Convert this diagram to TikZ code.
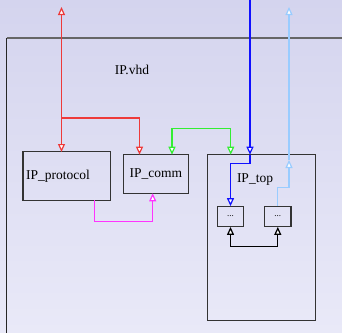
\documentclass[tikz,border=0pt]{standalone}
\usepackage{fontspec}
\setmainfont{Liberation Serif}
\usetikzlibrary{arrows.meta,calc}
\definecolor{bgtop}{HTML}{D4D4EE}
\definecolor{bgbot}{HTML}{E9E9F8}
\definecolor{cred}{HTML}{EE3A3A}
\definecolor{cgreen}{HTML}{33EE33}
\definecolor{cblue}{HTML}{1010FF}
\definecolor{clblue}{HTML}{99CCFF}
\definecolor{cmag}{HTML}{FF33FF}
\definecolor{cbox}{HTML}{333333}
\begin{document}
\begin{tikzpicture}[x=1pt,y=-1pt,
  tri/.tip={Triangle[fill=white,width=7pt,length=8pt]},
  conn/.style={line width=1.2pt},
  box/.style={draw=cbox,line width=1.2pt,rectangle,inner sep=0pt,font=\fontsize{13.5}{16}\selectfont},
  small/.style={box,minimum width=26.4pt,minimum height=19.6pt,font=\fontsize{9}{10}\selectfont},
  lbl/.style={inner sep=0pt,font=\fontsize{13.5}{16}\selectfont}]
\useasboundingbox (0,0) rectangle (342,332);
\shade[top color=bgtop,bottom color=bgbot] (0,0) rectangle (342,332);
% outer container
\draw[line width=1.3pt,black!60] (6.5,38) -- (343,38);
\draw[line width=1.3pt,black!85] (6.5,38) -- (6.5,333);
\node[lbl] (vhd) at (132,70) {IP.vhd};
% boxes
\node[box,minimum width=87.3pt,minimum height=48.3pt,text width=81pt,align=left,inner xsep=3pt] (proto) at (66.7,176) {\raisebox{3pt}{IP\_protocol}};
\node[box,minimum width=65pt,minimum height=38.6pt] (comm) at (155.8,174) {IP\_comm};
\node[box,minimum width=107.6pt,minimum height=165.6pt] (top) at (261.5,237.5) {};
\node[lbl] (toplbl) at (255,180) {IP\_top};
\node[small] (b1) at (230.5,216.5) {...};
\node[small] (b2) at (277.8,216.5) {...};
% port coordinates
\coordinate (redtop) at (61.5,7);
\coordinate (redbr) at (61.5,118);
\coordinate (protoin) at (61.5,152);
\coordinate (commred) at (139.5,154.7);
\coordinate (commgreen) at (172,154.7);
\coordinate (topgreen) at (230.7,154.7);
\coordinate (bluetop) at (250,0);
\coordinate (topblue) at (250,154.7);
\coordinate (bluemid) at (250,163.7);
\coordinate (lbtop) at (289,7);
\coordinate (lbin) at (289,160);
\coordinate (lbmid) at (289,187.7);
\coordinate (protoout) at (94.7,200);
\coordinate (commmag) at (152.7,193.3);
% red
\draw[conn,cred,tri-tri] (redtop) -- (protoin);
\draw[conn,cred,-tri] (redbr) -| (commred);
% green
\draw[conn,cgreen,tri-tri] (commgreen) |- ($(commgreen)!0.5!(topgreen)+(0,-26)$) -| (topgreen);
% blue
\draw[conn,cblue,-tri] (bluetop) -- (topblue);
\draw[conn,cblue,-tri] (topblue) -- (bluemid) -| (b1.north);
% light blue
\draw[conn,clblue,-tri] (b2.north) |- (lbmid) -- (lbin);
\draw[conn,clblue,-tri] (lbin) -- (lbtop);
% magenta
\draw[conn,cmag,-tri] (protoout) |- ($(protoout)!0.5!(commmag)+(0,25)$) -| (commmag);
% black
\draw[conn,black,tri-tri] (b1.south) |- ($(b1.south)!0.5!(b2.south)+(0,19.4)$) -| (b2.south);
\end{tikzpicture}
\end{document}
